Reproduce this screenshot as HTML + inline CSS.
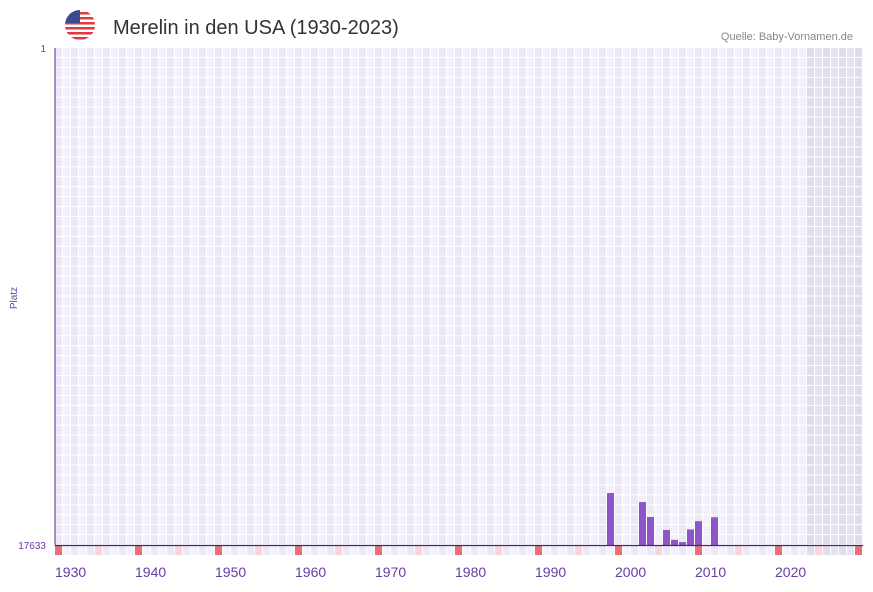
<!DOCTYPE html>
<html><head><meta charset="utf-8"><style>
body{margin:0;background:#fff;font-family:"Liberation Sans",sans-serif;}
</style></head><body>
<svg width="873" height="587" xmlns="http://www.w3.org/2000/svg">
<g>
<defs><clipPath id="fc"><circle cx="80" cy="25" r="15"/></clipPath></defs>
<g clip-path="url(#fc)">
<rect x="65" y="10" width="30" height="30" fill="#fff"/>
<rect x="65" y="12" width="30" height="2.5" fill="#e0393e"/>
<rect x="65" y="17" width="30" height="2.5" fill="#e0393e"/>
<rect x="65" y="22" width="30" height="2.5" fill="#e0393e"/>
<rect x="65" y="27" width="30" height="2.5" fill="#e0393e"/>
<rect x="65" y="32" width="30" height="2.5" fill="#e0393e"/>
<rect x="65" y="37" width="30" height="2.5" fill="#e0393e"/>
<rect x="65" y="10" width="15" height="13" fill="#3c4a8f"/>
</g></g>
<text x="113" y="34" font-size="20" fill="#333">Merelin in den USA (1930-2023)</text>
<text x="853" y="40" font-size="11" fill="#888" text-anchor="end">Quelle: Baby-Vornamen.de</text>
<g id="grid"></g>
<g id="bars"></g>
<g id="axes"></g>
<text x="17" y="298" font-size="10" fill="#6a3aa8" text-anchor="middle" transform="rotate(-90 17 298)">Platz</text>
</svg>
<script>
const years = [1999, 2003, 2004, 2006, 2007, 2008, 2009, 2010, 2012];
const ranks = [15790, 16110, 16640, 17100, 17450, 17530, 17080, 16790, 16650];
const yTicks = [1, 17633];
const xTickYears = [1930,1940,1950,1960,1970,1980,1990,2000,2010,2020];
const NS="http://www.w3.org/2000/svg";
const x0=55, cw=8, firstYear=1930, nCols=101, plotTop=48, base=545;
const maxRank=17633;
const xs=y=>x0+(y-firstYear)*cw;
const ys=r=>plotTop+(r-1)/(maxRank-1)*(base-plotTop);
function mk(t,a,p){const e=document.createElementNS(NS,t);for(const k in a)e.setAttribute(k,a[k]);p.appendChild(e);return e;}
const grid=document.getElementById('grid');
const rowH=(base-plotTop)/50;
for(let i=0;i<nCols;i++){
  const yr=firstYear+i;
  const shade=yr>=2024;
  const c1=shade?'#e1dcec':'#ece7f8', c2=shade?'#e6e2ee':'#f3f0fb';
  for(let r=0;r<50;r++){
    mk('rect',{x:x0+i*cw,y:plotTop+r*rowH,width:cw-1,height:rowH-1,fill:(i%2?c2:c1)},grid);
  }
  let bc=(i%2?c2:c1);
  if(yr%10===0) bc='#e8707a'; else if(yr%10===5) bc='#f5d6df';
  mk('rect',{x:x0+i*cw,y:546,width:cw-1,height:9,fill:bc},grid);
}
const bars=document.getElementById('bars');
years.forEach((yr,i)=>{
  const y=ys(ranks[i]);
  const b=mk('rect',{x:xs(yr),y:y,width:cw-1,height:base-y,fill:'#8e54c8'},bars);
  
  
});
const ax=document.getElementById('axes');
mk('line',{x1:55,y1:48,x2:55,y2:545.5,stroke:'#5b2d90','stroke-width':1},ax);
mk('line',{x1:55,y1:545.5,x2:863,y2:545.5,stroke:'#4a2080','stroke-width':1.2},ax);
yTicks.forEach(t=>{
  const e=mk('text',{x:46,y:ys(t)+4,'font-size':10,fill:'#6a3aa8','text-anchor':'end'},ax);
  e.textContent=t;
  
  
});
xTickYears.forEach(t=>{
  const e=mk('text',{x:xs(t),y:577,'font-size':14,fill:'#6a3aa8'},ax);
  e.textContent=t;
  
  
});
</script>
</body></html>
